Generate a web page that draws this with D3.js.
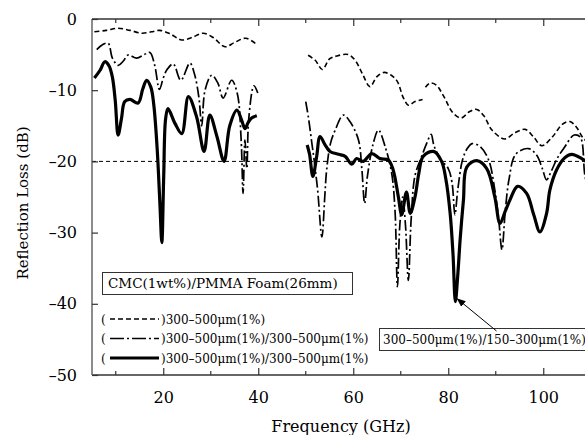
<!DOCTYPE html>
<html>
<head>
<meta charset="utf-8">
<script src="https://cdn.jsdelivr.net/npm/d3@7"></script>
<style>
  body { margin: 0; background: #fff; }
  svg { display: block; font-family: "DejaVu Serif", serif; }
</style>
</head>
<body>
<div id="viz"></div>
<script>
// frequency (GHz), reflection loss (dB)
var dashed1 = [[5.5,-1.8],[8,-1.6],[10.5,-1.3],[13,-1.6],[15.5,-2.0],[17.5,-1.8],[19.3,-1.6],[21.5,-2.1],[23.9,-2.95],[26,-2.6],[28.4,-2.0],[30.5,-2.6],[33,-3.9],[35,-3.3],[37.4,-2.7],[39.7,-3.6]];
var dashed2 = [[50.5,-5.1],[52,-5.8],[53.5,-7.1],[55,-5.6],[56.5,-5.2],[59,-5.0],[60.5,-5.9],[62,-7.8],[63.5,-9.5],[65,-8.1],[66.5,-7.5],[68,-7.9],[69.3,-8.8],[70.5,-11],[71.6,-12.1],[73,-11.6],[74.6,-11.3]];
var dashed3 = [[75.2,-9.6],[76.2,-9.0],[77.5,-9.3],[79,-10.8],[81,-13.2],[82.7,-13.9],[84.5,-13.0],[86,-12.7],[87.5,-13.6],[89.2,-15.6],[91.9,-16.85],[94,-16.0],[96.2,-15.5],[98,-16.6],[99.7,-17.8],[102,-16.5],[104,-14.8],[105.6,-14.4],[107,-15.2],[108.5,-16.8],[110,-17.5]];

var dashdot1 = [[6,-4.3],[7.2,-3.6],[8.4,-3.4],[9.3,-5.5],[10.5,-6.5],[11.6,-5.9],[12.6,-5.05],[14.4,-5.5],[16,-5.0],[17.2,-4.7],[18.2,-6.5],[19.2,-9.9],[20,-8.3],[20.8,-7.1],[22.1,-6.3],[23.7,-8.6],[25.6,-6.2],[26.6,-7.8],[27.5,-11],[28.1,-15.0],[28.8,-10],[30.2,-7.9],[31.5,-9],[32.6,-11.1],[34.4,-8.6],[35.6,-10.5],[36.4,-17],[36.8,-24.5],[37.2,-17],[37.6,-21],[38,-14],[39.1,-9.4],[39.9,-10.4]];
var dashdot2 = [[50,-11.6],[50.6,-14],[51.2,-17],[51.8,-20],[52.5,-24],[53.4,-30.6],[54,-25],[54.4,-21.2],[55.2,-17.5],[56.2,-15.6],[57.9,-13.5],[59.3,-14.4],[61.1,-17],[61.8,-21],[62.4,-25.9],[63,-22],[64.2,-17.5],[65.3,-15.6],[66.7,-17.9],[68.1,-21.7],[68.8,-27],[69.3,-37.6],[69.8,-29],[70.4,-25],[71,-29],[71.6,-36.7],[72.2,-28],[73,-22],[74.3,-19.5],[75.5,-17.4],[76.4,-16.2],[77,-17.8],[78.5,-19.8],[80,-21],[80.8,-23],[81.4,-27.5],[82,-24],[83,-19.8],[84,-18.2],[85,-17.5],[86.7,-17.9],[88.5,-19.8],[89.8,-24],[90.6,-28],[91.3,-32.4],[92,-27],[92.8,-22.5],[94.2,-19],[96.9,-18.2],[98.6,-19.1],[99.8,-21],[100.7,-22.6],[101.6,-21.5],[103,-19.5],[104.3,-18.2],[106.5,-16.3],[107.8,-16.6],[108.8,-22.1],[110,-25]];

var thick1 = [[5.5,-8.3],[6.7,-7.2],[7.7,-6.0],[8.6,-6.6],[9.3,-8.2],[9.9,-11.5],[10.5,-16.3],[11.2,-14],[11.9,-11.6],[13,-11.3],[14.7,-11.8],[15.7,-9.8],[16.5,-8.6],[17.4,-9.6],[18,-12],[18.7,-18],[19.3,-26],[19.7,-31.4],[20.1,-22],[20.5,-14],[21,-12.6],[22.5,-14.7],[23.9,-16.1],[25.3,-10.9],[27,-13.7],[28.6,-18.6],[29.8,-13.5],[31.3,-16.5],[32.8,-20.0],[34,-15],[35.5,-12.8],[36.5,-14.2],[37.2,-15.4],[37.9,-14.5],[38.6,-13.9],[39.7,-13.6]];
var thick2 = [[50.3,-17.7],[50.8,-19],[51.5,-22.1],[52.3,-19.3],[53,-16.5],[54,-17.6],[55.1,-18.6],[56.9,-19.0],[58.3,-19.3],[59.7,-20.4],[60.7,-19.6],[62.1,-20.0],[63.9,-18.9],[65.6,-19.6],[67.4,-19.8],[68.4,-21.2],[69.5,-25],[70.2,-27.5],[71.2,-24.3],[72,-27.3],[73,-25],[73.8,-21.7],[74.7,-19.3],[76.9,-18.6],[78.6,-20],[79.5,-22.5],[80.4,-27.3],[81,-33],[81.5,-39.7],[82,-36],[82.5,-31],[83.2,-25.4],[83.9,-20.8],[86,-19.9],[88.1,-21],[89.8,-25],[90.9,-28.7],[92,-27],[93,-25.4],[94.6,-23.5],[96.5,-24.5],[98,-27.5],[99.3,-29.9],[100.7,-27.3],[101.4,-24],[102.8,-21.2],[104.5,-19.5],[106,-19],[108.1,-19.6],[110,-20.5]];

var xTicks = [20, 40, 60, 80, 100],
    xMinor = [10, 30, 50, 70, 90, 110],
    yTicks = [0, -10, -20, -30, -40, -50],
    refLevel = -20;

var legendTitle = "CMC(1wt%)/PMMA Foam(26mm)",
    legendLabels = ["300\u2013500\u03bcm(1%)", "300\u2013500\u03bcm(1%)/300\u2013500\u03bcm(1%)", "300\u2013500\u03bcm(1%)/300\u2013500\u03bcm(1%)"],
    noteText = "300\u2013500\u03bcm(1%)/150\u2013300\u03bcm(1%)";

var W = 585, H = 435,
    margin = {top: 19, left: 92, bottom: 60};

var x = d3.scaleLinear().domain([5, 110]).range([margin.left, margin.left + 105 * 4.75]);
var y = d3.scaleLinear().domain([-50, 0]).range([375, 19]);

var svg = d3.select('#viz').append('svg')
    .attr('width', W).attr('height', H);

var line = d3.line()
    .x(function(d) { return x(d[0]); })
    .y(function(d) { return y(d[1]); })
    .curve(d3.curveCatmullRom.alpha(0.5));

// -20 dB reference
svg.append('line')
    .attr('x1', x(5)).attr('x2', W)
    .attr('y1', y(refLevel)).attr('y2', y(refLevel))
    .attr('stroke', '#000').attr('stroke-width', 1)
    .attr('stroke-dasharray', '4,3');

var styles = [
  {segs: [dashed1, dashed2, dashed3], w: 1.6, dash: '5,3'},
  {segs: [dashdot1, dashdot2], w: 1.7, dash: '11,3,2,3'},
  {segs: [thick1, thick2], w: 3.2, dash: null}
];

styles.forEach(function(s) {
  s.segs.forEach(function(seg) {
    svg.append('path')
      .datum(seg)
      .attr('d', line)
      .attr('fill', 'none')
      .attr('stroke', '#000')
      .attr('stroke-width', s.w)
      .attr('stroke-linejoin', 'round')
      .attr('stroke-dasharray', s.dash);
  });
});

// axes (ticks inward)
var axCol = '#333';
svg.append('line').attr('x1', x(5)).attr('x2', W).attr('y1', y(0)).attr('y2', y(0))
    .attr('stroke', axCol).attr('stroke-width', 1.5);
svg.append('line').attr('x1', x(5)).attr('x2', W).attr('y1', y(-50)).attr('y2', y(-50))
    .attr('stroke', axCol).attr('stroke-width', 1.5);
svg.append('line').attr('x1', x(5)).attr('x2', x(5)).attr('y1', y(0)).attr('y2', y(-50))
    .attr('stroke', '#666').attr('stroke-width', 1.5);

var bottomAxis = svg.append('g')
    .attr('transform', 'translate(0,' + y(-50) + ')')
    .call(d3.axisBottom(x).tickValues(xTicks).tickSizeInner(-7).tickSizeOuter(0).tickPadding(17));
var topAxis = svg.append('g')
    .attr('transform', 'translate(0,' + y(0) + ')')
    .call(d3.axisTop(x).tickValues(xTicks).tickSizeInner(-7).tickSizeOuter(0).tickFormat(''));
[bottomAxis, topAxis].forEach(function(g) { g.select('.domain').remove(); });

xMinor.forEach(function(v) {
  svg.append('line').attr('x1', x(v)).attr('x2', x(v)).attr('y1', y(-50)).attr('y2', y(-50) - 4)
      .attr('stroke', axCol).attr('stroke-width', 1.2);
  svg.append('line').attr('x1', x(v)).attr('x2', x(v)).attr('y1', y(0)).attr('y2', y(0) + 4)
      .attr('stroke', axCol).attr('stroke-width', 1.2);
});

var leftAxis = svg.append('g')
    .attr('transform', 'translate(' + x(5) + ',0)')
    .call(d3.axisLeft(y).tickValues(yTicks).tickSizeInner(-6).tickSizeOuter(0).tickPadding(15)
      .tickFormat(function(d) { return d < 0 ? '\u2013' + (-d) : d; }));
leftAxis.select('.domain').remove();

svg.selectAll('.tick line').attr('stroke', axCol).attr('stroke-width', 1.2);
svg.selectAll('.tick text').attr('font-family', '"DejaVu Serif", serif').attr('font-size', 16).attr('fill', '#000');

// axis titles
svg.append('text')
    .attr('x', 341).attr('y', 432)
    .attr('text-anchor', 'middle').attr('font-size', 16)
    .text('Frequency (GHz)');
svg.append('text')
    .attr('transform', 'translate(28,203) rotate(-90)')
    .attr('text-anchor', 'middle').attr('font-size', 15)
    .text('Reflection Loss (dB)');

// legend
svg.append('rect')
    .attr('x', 102.5).attr('y', 272.5).attr('width', 250).attr('height', 22)
    .attr('fill', '#fff').attr('stroke', '#333').attr('stroke-width', 1);
svg.append('text')
    .attr('x', 108).attr('y', 288).attr('font-size', 13.5)
    .text(legendTitle);

legendLabels.forEach(function(lab, i) {
  var ly = 319 + i * 19.5, s = styles[i];
  svg.append('text').attr('x', 101).attr('y', ly + 4.5).attr('font-size', 12).text('(');
  svg.append('line')
      .attr('x1', 110).attr('x2', 159).attr('y1', ly).attr('y2', ly)
      .attr('stroke', '#000').attr('stroke-width', s.w)
      .attr('stroke-dasharray', i === 1 ? '14,3,2,3' : s.dash);
  svg.append('text').attr('x', 161).attr('y', ly + 4.5).attr('font-size', 12).text(')' + lab);
});

// annotation
svg.append('rect')
    .attr('x', 379.5).attr('y', 328.5).attr('width', 220).attr('height', 22)
    .attr('fill', '#fff').attr('stroke', '#333').attr('stroke-width', 1);
svg.append('text')
    .attr('x', 383).attr('y', 344).attr('font-size', 12)
    .text(noteText);

svg.append('defs').append('marker')
    .attr('id', 'arr').attr('viewBox', '0 0 10 10').attr('refX', 9).attr('refY', 5)
    .attr('markerWidth', 9).attr('markerHeight', 9).attr('orient', 'auto')
    .attr('markerUnits', 'userSpaceOnUse')
  .append('path').attr('d', 'M0,1 L10,5 L0,9 Z').attr('fill', '#000');
svg.append('line')
    .attr('x1', 496.5).attr('y1', 331).attr('x2', x(81.9)).attr('y2', y(-39.3))
    .attr('stroke', '#000').attr('stroke-width', 1)
    .attr('marker-end', 'url(#arr)');
</script>
</body>
</html>
